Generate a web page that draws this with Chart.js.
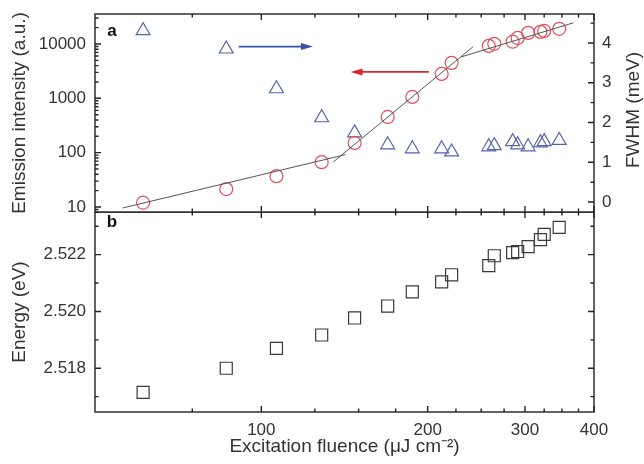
<!DOCTYPE html>
<html>
<head>
<meta charset="utf-8">
<script src="https://cdn.jsdelivr.net/npm/chart.js@4"></script>
<style>
  html, body { margin: 0; padding: 0; background: #fff; }
  #wrap { position: relative; width: 644px; height: 464px; }
  #wrap canvas { position: absolute; left: 0; }
  #top { top: 0; }
  #bottom { top: 212px; }
</style>
</head>
<body>
<div id="wrap">
  <canvas id="top" width="644" height="214"></canvas>
  <canvas id="bottom" width="644" height="252"></canvas>
</div>
<script>
const FONT = "'Liberation Sans', Arial, sans-serif";
const TEXT = "#333";

const fluence = [61.1, 86.4, 106.5, 128.6, 147.5, 169.3, 187.6, 212, 221, 258, 264, 285, 291, 304, 320, 325, 346];
const intensity = [12, 21.4, 37, 67, 151, 454, 1060, 2810, 4490, 9230, 10050, 11000, 12900, 16000, 16700, 17400, 19000];
const fwhm = [4.31, 3.85, 2.85, 2.12, 1.74, 1.44, 1.34, 1.34, 1.26, 1.39, 1.42, 1.52, 1.44, 1.39, 1.49, 1.52, 1.55];
const energy = [2.51715, 2.5180, 2.5187, 2.51917, 2.51977, 2.52019, 2.52069, 2.52104, 2.52129, 2.52161, 2.52196, 2.52207, 2.52211, 2.52228, 2.52253, 2.52271, 2.52296];

// guide-to-the-eye fit segments
const fit1X = [56.1, 142];
const fit1Y = [9.6, 92];
const fit2X = [135, 241.5];
const fit2Y = [67.6, 8850];
const fit3X = [230, 367];
const fit3Y = [5780, 24500];

// arrows: x from -> to, y on the axis they point to
const blueArrowX = [91, 124];
const blueArrowY = 3.91;
const redArrowX = [201, 145];
const redArrowY = 3060;

// tick values
const xTicks = [100, 200, 300, 400];
const xMinor = [75, 125, 150, 175, 225, 250, 275, 325, 350, 375];
const intensityTicks = [10, 100, 1000, 10000];
const fwhmTicks = [0, 1, 2, 3, 4];
const fwhmMinor = [0.5, 1.5, 2.5, 3.5, 4.5];
const energyTicks = [2.518, 2.520, 2.522];
const energyMinor = [2.517, 2.519, 2.521, 2.523];

const intensityMinor = [];
for (let d = 1; d <= 10000; d *= 10) {
  for (let k = 2; k <= 9; k++) intensityMinor.push(k * d);
}

function pts(xs, ys) {
  return xs.map((x, i) => ({ x, y: ys[i] }));
}

/** Forces an axis box to a fixed size so both panels share the same plot area. */
function fixWidth(w) {
  return (s) => {
    s.width = w;
    s.paddingTop = s.paddingBottom = s.paddingLeft = s.paddingRight = 0;
  };
}
function fixHeight(h) {
  return (s) => {
    s.height = h;
    s.paddingTop = s.paddingBottom = s.paddingLeft = s.paddingRight = 0;
  };
}

function fitLine(xs, ys) {
  return {
    type: "line",
    data: pts(xs, ys),
    yAxisID: "yI",
    borderColor: "#555",
    borderWidth: 1,
    pointRadius: 0,
    fill: false,
  };
}

// frame + inward ticks on all four sides
const framePlugin = {
  id: "frame",
  afterDatasetsDraw(chart, _args, opts) {
    const { ctx, chartArea: a, scales } = chart;
    const x = scales.x;
    const left = scales[opts.left];
    ctx.save();
    ctx.strokeStyle = "#222";
    ctx.lineWidth = 1.4;
    ctx.strokeRect(a.left, a.top, a.right - a.left, a.bottom - a.top);
    ctx.beginPath();
    const hTick = (v, len) => {
      const px = x.getPixelForValue(v);
      ctx.moveTo(px, a.top); ctx.lineTo(px, a.top + len);
      ctx.moveTo(px, a.bottom); ctx.lineTo(px, a.bottom - len);
    };
    xTicks.forEach((v) => hTick(v, 6));
    xMinor.forEach((v) => hTick(v, 3.5));
    const vTick = (scale, v, len, side) => {
      const py = scale.getPixelForValue(v);
      if (py < a.top - 0.5 || py > a.bottom + 0.5) return;
      if (side === "left") { ctx.moveTo(a.left, py); ctx.lineTo(a.left + len, py); }
      else { ctx.moveTo(a.right, py); ctx.lineTo(a.right - len, py); }
    };
    opts.leftMajor.forEach((v) => vTick(left, v, 6, "left"));
    opts.leftMinor.forEach((v) => vTick(left, v, 3.5, "left"));
    const right = scales[opts.right];
    opts.rightMajor.forEach((v) => vTick(right, v, 6, "right"));
    opts.rightMinor.forEach((v) => vTick(right, v, 3.5, "right"));
    ctx.stroke();
    ctx.restore();
  },
};

function arrow(ctx, x1, x2, y, color) {
  const dir = Math.sign(x2 - x1);
  ctx.strokeStyle = color;
  ctx.fillStyle = color;
  ctx.lineWidth = 1.6;
  ctx.beginPath();
  ctx.moveTo(x1, y);
  ctx.lineTo(x2 - dir * 8, y);
  ctx.stroke();
  ctx.beginPath();
  ctx.moveTo(x2, y);
  ctx.lineTo(x2 - dir * 12, y - 3.5);
  ctx.lineTo(x2 - dir * 12, y + 3.5);
  ctx.closePath();
  ctx.fill();
}

const decoPlugin = {
  id: "deco",
  afterDraw(chart, _args, opts) {
    const { ctx, chartArea: a, scales } = chart;
    ctx.save();
    ctx.fillStyle = "#111";
    ctx.font = `bold 17px ${FONT}`;
    ctx.textAlign = "center";
    ctx.textBaseline = "alphabetic";
    ctx.fillText(opts.panel, a.left + 17, a.top + opts.panelDy);
    if (opts.arrows) {
      const x = scales.x;
      const yb = scales.yF.getPixelForValue(blueArrowY);
      arrow(ctx, x.getPixelForValue(blueArrowX[0]), x.getPixelForValue(blueArrowX[1]), yb, "#3a52a6");
      const yr = scales.yI.getPixelForValue(redArrowY);
      arrow(ctx, x.getPixelForValue(redArrowX[0]), x.getPixelForValue(redArrowX[1]), yr, "#d8262c");
    }
    if (opts.rightTitle) {
      ctx.fillStyle = TEXT;
      ctx.font = `19px ${FONT}`;
      ctx.textBaseline = "middle";
      ctx.translate(634, (a.top + a.bottom) / 2 - 3);
      ctx.rotate(-Math.PI / 2);
      ctx.fillText(opts.rightTitle, 0, 0);
    }
    ctx.restore();
  },
};

const tickFont = { family: FONT, size: 17 };
const titleFont = { family: FONT, size: 19 };
const noGrid = { display: false, drawTicks: false };

new Chart(document.getElementById("top"), {
  type: "scatter",
  data: {
    datasets: [
      fitLine(fit1X, fit1Y),
      fitLine(fit2X, fit2Y),
      fitLine(fit3X, fit3Y),
      {
        label: "Emission intensity",
        data: pts(fluence, intensity),
        yAxisID: "yI",
        pointStyle: "circle",
        pointRadius: 6.5,
        pointBorderWidth: 1.2,
        pointBorderColor: "#e0505c",
        pointBackgroundColor: "rgba(0,0,0,0)",
      },
      {
        label: "FWHM",
        data: pts(fluence, fwhm),
        yAxisID: "yF",
        pointStyle: "triangle",
        pointRadius: 8,
        pointBorderWidth: 1.2,
        pointBorderColor: "#5565a8",
        pointBackgroundColor: "rgba(0,0,0,0)",
      },
    ],
  },
  options: {
    responsive: false,
    animation: false,
    devicePixelRatio: 1,
    layout: { autoPadding: false, padding: { top: 14, bottom: 2, left: 0, right: 0 } },
    plugins: {
      legend: { display: false },
      tooltip: { enabled: false },
      frame: {
        left: "yI", leftMajor: intensityTicks, leftMinor: intensityMinor,
        right: "yF", rightMajor: fwhmTicks, rightMinor: fwhmMinor,
      },
      deco: { panel: "a", panelDy: 22, arrows: true, rightTitle: "FWHM (meV)" },
    },
    scales: {
      x: { type: "logarithmic", min: 50, max: 400, display: false },
      yI: {
        type: "logarithmic",
        position: "left",
        min: 8.1,
        max: 35600,
        afterBuildTicks: (s) => { s.ticks = intensityTicks.map((v) => ({ value: v })); },
        ticks: { callback: (v) => String(v), font: tickFont, color: TEXT, padding: 9 },
        grid: noGrid,
        border: { display: false },
        title: { display: true, text: "Emission intensity (a.u.)", font: titleFont, color: TEXT, padding: { top: 8.6, bottom: 0 } },
        afterFit: fixWidth(95),
      },
      yF: {
        type: "linear",
        position: "right",
        min: -0.25,
        max: 4.73,
        afterBuildTicks: (s) => { s.ticks = fwhmTicks.map((v) => ({ value: v })); },
        ticks: { callback: (v) => String(v), font: tickFont, color: TEXT, padding: 8 },
        grid: noGrid,
        border: { display: false },
        afterFit: fixWidth(50),
      },
    },
  },
  plugins: [framePlugin, decoPlugin],
});

new Chart(document.getElementById("bottom"), {
  type: "scatter",
  data: {
    datasets: [
      {
        label: "Energy",
        data: pts(fluence, energy),
        yAxisID: "yE",
        pointStyle: "rect",
        pointRadius: 8.5,
        pointBorderWidth: 1.2,
        pointBorderColor: "#3a3a3a",
        pointBackgroundColor: "rgba(0,0,0,0)",
      },
    ],
  },
  options: {
    responsive: false,
    animation: false,
    devicePixelRatio: 1,
    layout: { autoPadding: false, padding: 0 },
    plugins: {
      legend: { display: false },
      tooltip: { enabled: false },
      frame: {
        left: "yE", leftMajor: energyTicks, leftMinor: energyMinor,
        right: "yR", rightMajor: energyTicks, rightMinor: energyMinor,
      },
      deco: { panel: "b", panelDy: 15 },
    },
    scales: {
      x: {
        type: "logarithmic",
        position: "bottom",
        min: 50,
        max: 400,
        afterBuildTicks: (s) => { s.ticks = xTicks.map((v) => ({ value: v })); },
        ticks: { callback: (v) => String(v), font: tickFont, color: TEXT, padding: 8, maxRotation: 0, autoSkip: false },
        grid: noGrid,
        border: { display: false },
        title: { display: true, text: "Excitation fluence (\u03bcJ cm\u207b\u00b2)", font: titleFont, color: TEXT, padding: { top: 0, bottom: 6 } },
        afterFit: fixHeight(52),
      },
      yE: {
        type: "linear",
        position: "left",
        min: 2.51646,
        max: 2.5235,
        afterBuildTicks: (s) => { s.ticks = energyTicks.map((v) => ({ value: v })); },
        ticks: { callback: (v) => Number(v).toFixed(3), font: tickFont, color: TEXT, padding: 9 },
        grid: noGrid,
        border: { display: false },
        title: { display: true, text: "Energy (eV)", font: titleFont, color: TEXT, padding: { top: 8.6, bottom: 0 } },
        afterFit: fixWidth(95),
      },
      yR: {
        type: "linear",
        position: "right",
        min: 2.51646,
        max: 2.5235,
        ticks: { display: false },
        grid: noGrid,
        border: { display: false },
        afterFit: fixWidth(50),
      },
    },
  },
  plugins: [framePlugin, decoPlugin],
});
</script>
</body>
</html>
